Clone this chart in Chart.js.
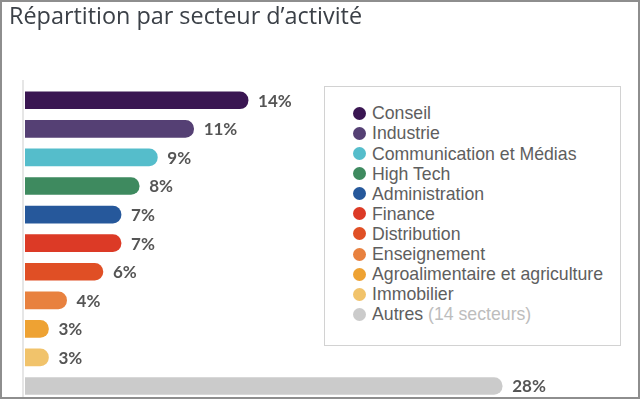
<!DOCTYPE html>
<html>
<head>
<meta charset="utf-8">
<script src="https://cdn.jsdelivr.net/npm/chart.js@4/dist/chart.umd.min.js"></script>
<style>
  html, body { margin: 0; padding: 0; background: #fff; overflow: hidden; }
  #wrap { position: relative; width: 640px; height: 399px; overflow: hidden; background: #fff; }
  #frame { position: absolute; left: 0; top: 0; width: 640px; height: 399px; box-sizing: border-box; border: 2px solid #8e8e8e; pointer-events: none; z-index: 5; }
  #chartBox { position: absolute; left: 0; top: 0; width: 640px; height: 420px; }
  #title { position: absolute; left: 9px; top: 4.3px; font-family: "Open Sans", sans-serif; font-size: 23.4px; line-height: 23.4px; color: #3b4047; white-space: nowrap; z-index: 3; }
  #legend { position: absolute; left: 324px; top: 86px; width: 297px; height: 260px; box-sizing: border-box; border: 1px solid #d2d2d2; background: #fff; z-index: 3; }
  .item { position: absolute; left: 0; height: 20px; line-height: 20px; font-family: "Liberation Sans", Arial, sans-serif; font-size: 17.7px; color: #5e5e5e; white-space: nowrap; }
  .dot { position: absolute; width: 13px; height: 13px; border-radius: 50%; top: 3.5px; }
  .txt { position: absolute; top: 0; }
  .note { color: #bdbdbd; }
</style>
</head>
<body>
<div id="wrap">
  <div id="chartBox"><canvas id="c" width="640" height="420"></canvas></div>
  <div id="title">Répartition par secteur d’activité</div>
  <div id="legend"></div>
  <div id="frame"></div>
</div>
<script>
const categories = ["Conseil", "Industrie", "Communication et Médias", "High Tech", "Administration", "Finance", "Distribution", "Enseignement", "Agroalimentaire et agriculture", "Immobilier", "Autres"];
const values = [14, 11, 9, 8, 7, 7, 6, 4, 3, 3, 28];
const valueLabels = ["14%", "11%", "9%", "8%", "7%", "7%", "6%", "4%", "3%", "3%", "28%"];
const legendNotes = ["", "", "", "", "", "", "", "", "", "", "(14 secteurs)"];
const colors = ["#3a1652", "#554074", "#55bdcb", "#3e8a5f", "#26589b", "#dc3a26", "#e04f25", "#e8813f", "#eea233", "#f1c36b", "#cbcbcb"];

// Legend (HTML, built from the arrays)
const legend = document.getElementById('legend');
categories.forEach((cat, i) => {
  const it = document.createElement('div');
  it.className = 'item';
  it.style.top = (16.3 + i * 20.1) + 'px';
  it.style.width = '290px';
  const dot = document.createElement('span');
  dot.className = 'dot';
  dot.style.left = (27.8) + 'px';
  dot.style.background = colors[i];
  const t = document.createElement('span');
  t.className = 'txt';
  t.style.left = '47px';
  t.textContent = cat;
  if (legendNotes[i]) {
    const n = document.createElement('span');
    n.className = 'note';
    n.textContent = ' ' + legendNotes[i];
    t.appendChild(n);
  }
  it.appendChild(dot);
  it.appendChild(t);
  legend.appendChild(it);
});

const axisLine = {
  id: 'axisLine',
  beforeDatasetsDraw(chart) {
    const ctx = chart.ctx;
    ctx.save();
    ctx.strokeStyle = '#e6e6e6';
    ctx.lineWidth = 2;
    ctx.beginPath();
    ctx.moveTo(chart.chartArea.left - 2, 80);
    ctx.lineTo(chart.chartArea.left - 2, chart.height);
    ctx.stroke();
    ctx.restore();
  }
};

const barLabels = {
  id: 'barLabels',
  afterDatasetsDraw(chart) {
    const ctx = chart.ctx;
    const meta = chart.getDatasetMeta(0);
    ctx.save();
    ctx.font = 'bold 17px Lato, sans-serif';
    ctx.fillStyle = '#555555';
    ctx.textBaseline = 'middle';
    ctx.textAlign = 'left';
    meta.data.forEach((bar, i) => {
      ctx.fillText(valueLabels[i], bar.x + 10, bar.y + 1);
    });
    ctx.restore();
  }
};

new Chart(document.getElementById('c'), {
  type: 'bar',
  data: {
    labels: categories,
    datasets: [{
      data: values,
      backgroundColor: colors,
      borderWidth: 0,
      borderRadius: 9,
      borderSkipped: 'start',
      barThickness: 17,
      clip: 0
    }]
  },
  options: {
    indexAxis: 'y',
    responsive: false,
    animation: false,
    events: [],
    layout: { padding: { left: 25, right: 20, top: 86, bottom: 19.7 } },
    plugins: { legend: { display: false }, tooltip: { enabled: false } },
    scales: {
      x: { display: false, min: 1.708, max: 34.49 },
      y: { display: false, offset: true }
    }
  },
  plugins: [axisLine, barLabels]
});
</script>
</body>
</html>
